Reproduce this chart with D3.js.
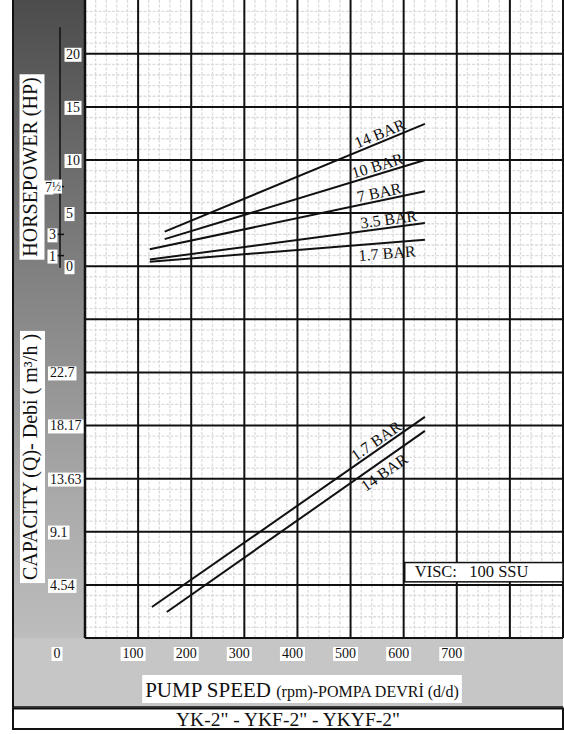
<!DOCTYPE html>
<html><head><meta charset="utf-8">
<script src="https://cdn.jsdelivr.net/npm/d3@7"></script>
<style>body{margin:0;background:#fff}svg{display:block}text{font-family:"Liberation Serif","Times New Roman",serif;fill:#111}</style>
</head><body><svg id="c" width="564" height="734"></svg>
<script>
// ---- data ----
const speedTicks=[0,100,200,300,400,500,600,700];
const hpTicks=[0,5,10,15,20];
const motorTicks=[1,3,7.5];
const motorLabels=["1","3","7"];
const capTicks=[4.54,9.1,13.63,18.17,22.7];
const hpSeries=["14 BAR","10 BAR","7 BAR","3.5 BAR","1.7 BAR"];
const hpStartRpm=[150,150,122,122,122];
const hpStartHp=[3.25,2.55,1.6,0.63,0.41];
const hpEndRpm=[640,640,640,640,640];
const hpEndHp=[13.4,10.0,7.05,4.07,2.5];
const hpLabelRpm=[561,555,557,574,567];
const hpLabelSide=["above","above","above","above","below"];
const capSeries=["1.7 BAR","14 BAR"];
const capStartRpm=[126,154];
const capStartQ=[2.65,2.22];
const capEndRpm=[640,640];
const capEndQ=[18.9,17.7];
const capLabelRpm=[557,552];
const capLabelSide=["above","below"];
const hpTitle="HORSEPOWER  (HP)";
const capTitle="CAPACITY (Q)- Debi ( m³/h )";
const xTitleMain="PUMP SPEED ";
const xTitleSub="(rpm)-POMPA DEVRİ (d/d)";
const chartTitle='YK-2" - YKF-2" - YKYF-2"';
const viscText="VISC:   100 SSU";

// ---- layout ----
const svg=d3.select("#c");
const L=85,R=563,B=638,FRAME_L=13,GRAY_B=707;
const x=d3.scaleLinear().domain([0,900]).range([L,R]);
const cell=(R-L)/9;
const cap=d3.scaleLinear().domain([0,22.7]).range([B,B-5*cell]);
const hp=d3.scaleLinear().domain([0,20]).range([B-7*cell,B-11*cell]);

const defs=svg.append("defs");
const g1=defs.append("linearGradient").attr("id","lg").attr("gradientUnits","userSpaceOnUse")
  .attr("x1",0).attr("y1",0).attr("x2",0).attr("y2",GRAY_B);
[[0,"#4c4c4c"],[0.35,"#7c7c7c"],[0.7,"#a9a9a9"],[1,"#c6c6c6"]].forEach(s=>g1.append("stop").attr("offset",s[0]).attr("stop-color",s[1]));

svg.append("rect").attr("width",564).attr("height",734).attr("fill","#fff");
svg.append("rect").attr("x",FRAME_L).attr("y",0).attr("width",L-FRAME_L).attr("height",GRAY_B).attr("fill","url(#lg)");
svg.append("rect").attr("x",FRAME_L).attr("y",B).attr("width",R-FRAME_L).attr("height",GRAY_B-B).attr("fill","#c6c6c6");
svg.append("rect").attr("x",L).attr("y",0).attr("width",R-L).attr("height",B).attr("fill","#fff");

// minor grid
const minor=svg.append("g").attr("stroke","#dcdcdc").attr("stroke-width",1.3).attr("stroke-dasharray","3,1.5");
d3.range(0,901,20).filter(v=>v%100!==0).forEach(v=>{
  minor.append("line").attr("x1",x(v)).attr("x2",x(v)).attr("y1",0).attr("y2",B);
});
for(let j=1;;j++){const y=cap(j*4.54/5); if(y<0)break; if(j%5===0)continue;
  minor.append("line").attr("x1",L).attr("x2",R).attr("y1",y).attr("y2",y);}
// major grid
const major=svg.append("g").attr("stroke","#111").attr("stroke-width",2);
d3.range(0,901,100).forEach(v=>major.append("line").attr("x1",x(v)).attr("x2",x(v)).attr("y1",0).attr("y2",B));
for(let k=0;k<=11;k++){const y=cap(k*4.54);
  major.append("line").attr("x1",L).attr("x2",R).attr("y1",y).attr("y2",y);}
major.append("line").attr("x1",L).attr("x2",L).attr("y1",0).attr("y2",B).attr("stroke-width",2.5);

// frame
svg.append("line").attr("x1",FRAME_L).attr("x2",FRAME_L).attr("y1",0).attr("y2",730).attr("stroke","#111").attr("stroke-width",2);
svg.append("line").attr("x1",FRAME_L).attr("x2",R).attr("y1",GRAY_B).attr("y2",GRAY_B).attr("stroke","#111").attr("stroke-width",1.5);
svg.append("rect").attr("x",FRAME_L).attr("y",GRAY_B+1.5).attr("width",R-FRAME_L).attr("height",20.5).attr("fill","#fff").attr("stroke","#111").attr("stroke-width",2);

// helper: text with white box
function boxedText(parent,txt,px,py,size,anchor,pad){
  const g=parent.append("g");
  const r=g.append("rect").attr("fill","#fff");
  const t=g.append("text").attr("x",px).attr("y",py).attr("font-size",size).attr("text-anchor",anchor||"start").text(txt);
  const b=t.node().getBBox(); pad=pad==null?2:pad;
  r.attr("x",b.x-pad).attr("y",b.y+1).attr("width",b.width+2*pad).attr("height",b.height-1);
  return {g,t,r};
}

// curves
const line=d3.line();
const curveG=svg.append("g").attr("fill","none").attr("stroke","#111").attr("stroke-width",2);
const labG=svg.append("g");
function drawSeries(name,r0,v0,r1,v1,ys,labRpm,side){
  const p0=[x(r0),ys(v0)],p1=[x(r1),ys(v1)];
  curveG.append("path").attr("d",line([p0,p1]));
  const t=(labRpm-r0)/(r1-r0);
  const cx=p0[0]+t*(p1[0]-p0[0]), cy=p0[1]+t*(p1[1]-p0[1]);
  const ang=Math.atan2(p1[1]-p0[1],p1[0]-p0[0])*180/Math.PI;
  labG.append("text").attr("transform",`translate(${cx},${cy}) rotate(${ang})`)
    .attr("text-anchor","middle").attr("font-size",16)
    .attr("y",side==="above"?-3:16).text(name);
}
hpSeries.forEach((s,i)=>drawSeries(s,hpStartRpm[i],hpStartHp[i],hpEndRpm[i],hpEndHp[i],hp,hpLabelRpm[i],hpLabelSide[i]));
capSeries.forEach((s,i)=>drawSeries(s,capStartRpm[i],capStartQ[i],capEndRpm[i],capEndQ[i],cap,capLabelRpm[i],capLabelSide[i]));

// axes labels
const ax=svg.append("g");
function rotTitle(txt,cx,cy,size){
  const g=ax.append("g").attr("transform",`translate(${cx},${cy}) rotate(-90)`);
  const r=g.append("rect").attr("fill","#fff");
  const t=g.append("text").attr("text-anchor","middle").attr("font-size",size).text(txt);
  const b=t.node().getBBox();
  r.attr("x",b.x-3).attr("y",b.y+1).attr("width",b.width+6).attr("height",b.height+2);
}
rotTitle(hpTitle,36.5,167,20);
rotTitle(capTitle,37,457,20);

// HP ticks
hpTicks.forEach(v=>boxedText(ax,String(v),66,hp(v)+5,14,"start",1.5));
// motor axis
ax.append("line").attr("x1",60).attr("x2",60).attr("y1",hp(22.5)).attr("y2",hp(0)+1.5).attr("stroke","#111").attr("stroke-width",1.5);
motorTicks.forEach((v,i)=>{
  ax.append("line").attr("x1",57).attr("x2",64).attr("y1",hp(v)).attr("y2",hp(v)).attr("stroke","#111").attr("stroke-width",1.5);
  boxedText(ax,motorLabels[i],v===7.5?52:56,hp(v)+5,14,"end",1.5);
  if(v===7.5){
    const t2=ax.append("text").attr("x",52).attr("y",hp(v)+4).attr("font-size",12).text("½");
    const b=t2.node().getBBox();
    ax.insert("rect",()=>t2.node()).attr("x",b.x).attr("y",b.y).attr("width",b.width+1).attr("height",b.height).attr("fill","#fff");
  }
});
// capacity ticks
capTicks.forEach(v=>boxedText(ax,String(v),50,cap(v)+5,14,"start",2));
// speed ticks
speedTicks.forEach(v=>boxedText(ax,String(v),v===0?x(0)-28:x(v)-5,658,14,"middle",2));

// x title
(function(){
  const g=ax.append("g");
  const r=g.append("rect").attr("fill","#fff");
  const t=g.append("text").attr("y",697).attr("font-size",21);
  t.append("tspan").text(xTitleMain);
  t.append("tspan").attr("font-size",16).text(xTitleSub);
  const w=t.node().getComputedTextLength();
  const cx=302;
  t.attr("x",cx-w/2);
  r.attr("x",cx-w/2-3).attr("y",675).attr("width",w+6).attr("height",28);
})();

// chart title
ax.append("text").attr("x",(FRAME_L+R)/2).attr("y",726).attr("text-anchor","middle").attr("font-size",19.5).text(chartTitle);

// VISC box
ax.append("rect").attr("x",x(602)).attr("y",cap(6.45)).attr("width",R-x(602)).attr("height",cap(4.8)-cap(6.45))
  .attr("fill","#fff").attr("stroke","#111").attr("stroke-width",1.5);
ax.append("text").attr("x",x(602)+10).attr("y",cap(4.8)-4.5).attr("font-size",16.5).attr("xml:space","preserve").style("white-space","pre").text(viscText);
</script></body></html>
